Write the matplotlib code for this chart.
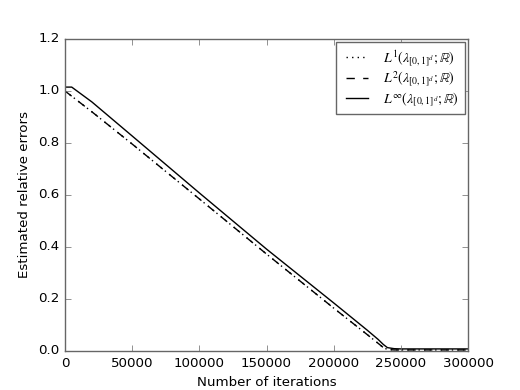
import matplotlib
matplotlib.use("Agg")
import matplotlib.pyplot as plt

plt.style.use("classic")
plt.rcParams["mathtext.fontset"] = "stix"
plt.rcParams["axes.edgecolor"] = "0.4"
plt.rcParams["xtick.color"] = "0.4"
plt.rcParams["ytick.color"] = "0.4"
plt.rcParams["xtick.labelcolor"] = "black"
plt.rcParams["ytick.labelcolor"] = "black"

# values
iters = [0, 5000, 20000, 50000, 100000, 150000, 200000, 225000,
         233000, 237000, 240000, 245000, 250000, 275000, 300000]
l1 = [1.000, 0.980, 0.920, 0.796, 0.585, 0.373, 0.165, 0.063,
      0.030, 0.013, 0.006, 0.004, 0.004, 0.004, 0.004]
l2 = [1.000, 0.980, 0.920, 0.796, 0.585, 0.373, 0.165, 0.063,
      0.030, 0.013, 0.006, 0.004, 0.004, 0.004, 0.004]
linf = [1.015, 1.015, 0.958, 0.827, 0.608, 0.392, 0.185, 0.080,
        0.045, 0.025, 0.013, 0.009, 0.008, 0.008, 0.008]

fig = plt.figure(figsize=(5.2, 3.9), dpi=100)
ax = fig.add_subplot(111)
ax.plot(iters, l1, "k:", label=r"$L^1(\lambda_{[0,1]^d};\mathbb{R})$")
ax.plot(iters, l2, "k--", label=r"$L^2(\lambda_{[0,1]^d};\mathbb{R})$")
ax.plot(iters, linf, "k-", label=r"$L^\infty(\lambda_{[0,1]^d};\mathbb{R})$")
ax.set_xlim(0, 300000)
ax.set_ylim(0, 1.2)
ax.set_xlabel("Number of iterations", fontsize=9.6)
ax.set_ylabel("Estimated relative errors", fontsize=9.6)
ax.tick_params(labelsize=9.6)
ax.legend(fontsize=10, labelspacing=0.15, borderaxespad=0.25,
          handlelength=2.2, borderpad=0.4)
fig.savefig("out.png", dpi=100)
